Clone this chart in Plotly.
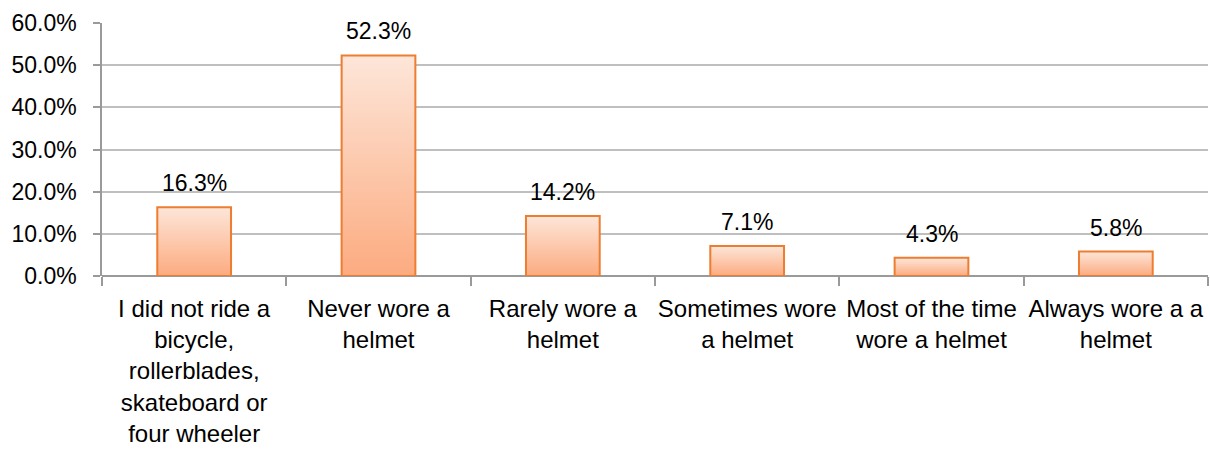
import plotly.graph_objects as go

# Survey responses: helmet use while riding
categories = [
    "I did not ride a<br>bicycle,<br>rollerblades,<br>skateboard or<br>four wheeler",
    "Never wore a<br>helmet",
    "Rarely wore a<br>helmet",
    "Sometimes wore<br>a helmet",
    "Most of the time<br>wore a helmet",
    "Always wore a a<br>helmet",
]
percentages = [16.3, 52.3, 14.2, 7.1, 4.3, 5.8]
y_ticks = [0, 10, 20, 30, 40, 50, 60]

BAR_WIDTH = 0.4
FONT = "Liberation Sans, Arial, sans-serif"
EDGE = "#ED7D31"
GRID = "#bfbfbf"
AXIS = "#9a9a9a"

fig = go.Figure()

# Each bar is a filled rectangle so it can carry a vertical gradient
for i, v in enumerate(percentages):
    left, right = i - BAR_WIDTH / 2, i + BAR_WIDTH / 2
    fig.add_trace(go.Scatter(
        x=[left, right, right, left, left],
        y=[0, 0, v, v, 0],
        mode="lines",
        fill="toself",
        fillgradient=dict(
            type="vertical",
            colorscale=[[0, "#fcab80"], [1, "#fde6d9"]],
        ),
        line=dict(color=EDGE, width=2),
        hoverinfo="skip",
        showlegend=False,
    ))
    fig.add_annotation(
        x=i, y=v, text=f"{v:.1f}%",
        showarrow=False, yanchor="bottom", yshift=9,
        font=dict(family=FONT, size=23, color="#000000"),
    )

n = len(categories)
fig.update_xaxes(
    range=[-0.5, n - 0.5],
    tickmode="array",
    tickvals=list(range(n)),
    ticktext=categories,
    ticks="",
    showgrid=False,
    zeroline=False,
    showline=False,
    tickfont=dict(family=FONT, size=24, color="#000000"),
    ticklabelstandoff=16,
    minor=dict(
        tickmode="array",
        tickvals=[k - 0.5 for k in range(n + 1)],
        ticks="outside",
        ticklen=9,
        tickcolor=AXIS,
        tickwidth=1.5,
        showgrid=False,
    ),
)
fig.update_yaxes(
    range=[0, 60],
    tickmode="array",
    tickvals=y_ticks,
    ticktext=[f"{t:.1f}%" for t in y_ticks],
    ticks="outside",
    ticklen=7,
    tickcolor=AXIS,
    tickwidth=1.5,
    showline=True,
    linecolor=AXIS,
    linewidth=1.5,
    showgrid=True,
    gridcolor=GRID,
    gridwidth=1.5,
    zeroline=True,
    zerolinecolor=AXIS,
    zerolinewidth=1.5,
    tickfont=dict(family=FONT, size=23, color="#000000"),
    ticklabelstandoff=12,
)

fig.update_layout(
    width=1210,
    height=450,
    margin=dict(l=102, r=2, t=23, b=174),
    paper_bgcolor="white",
    plot_bgcolor="white",
)

fig.write_html("out.html")
